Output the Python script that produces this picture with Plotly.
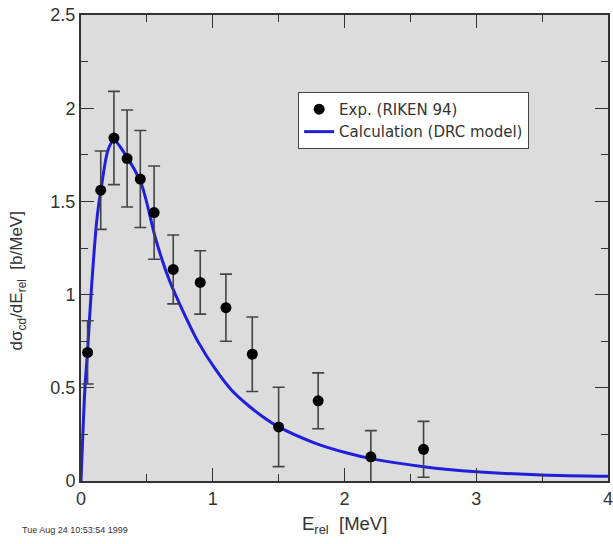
import plotly.graph_objects as go

# Measured Coulomb-dissociation cross section (RIKEN 94)
exp_e = [0.05, 0.15, 0.25, 0.35, 0.45, 0.555, 0.70, 0.905, 1.10, 1.30, 1.50, 1.80, 2.20, 2.60]
exp_sigma = [0.69, 1.56, 1.84, 1.73, 1.62, 1.44, 1.135, 1.065, 0.93, 0.68, 0.29, 0.43, 0.13, 0.17]
exp_err = [0.17, 0.21, 0.25, 0.26, 0.26, 0.25, 0.185, 0.17, 0.18, 0.20, 0.213, 0.15, 0.14, 0.15]

# DRC model calculation
calc_e = [0.0, 0.03, 0.05, 0.08, 0.12, 0.155, 0.205, 0.25, 0.33, 0.455, 0.57, 0.67,
          0.77, 0.89, 1.02, 1.14, 1.27, 1.38, 1.50, 1.77, 2.02, 2.20, 2.60, 3.00, 3.50, 4.00]
calc_sigma = [0.0, 0.50, 0.70, 1.04, 1.40, 1.58, 1.776, 1.83, 1.758, 1.60, 1.29, 1.078,
              0.917, 0.745, 0.60, 0.49, 0.405, 0.345, 0.29, 0.205, 0.15, 0.12, 0.077, 0.05, 0.032, 0.025]

x_ticks = [0, 1, 2, 3, 4]
y_ticks = [0, 0.5, 1, 1.5, 2, 2.5]

FONT = "Liberation Sans, Arial, sans-serif"
LEGEND_FONT = "DejaVu Sans, Liberation Sans, sans-serif"
INK = "#333333"

fig = go.Figure()

fig.add_trace(go.Scatter(
    x=calc_e, y=calc_sigma, mode="lines",
    line=dict(color="#1f1fdc", width=3, shape="spline", smoothing=0.8),
    name="Calculation (DRC model)",
))

fig.add_trace(go.Scatter(
    x=exp_e, y=exp_sigma, mode="markers",
    marker=dict(color="black", size=11),
    error_y=dict(type="data", array=exp_err, visible=True,
                 color="#444444", thickness=1.6, width=6),
    name="Exp. (RIKEN 94)",
))

axis_common = dict(
    showline=True, linecolor=INK, linewidth=2, mirror="ticks",
    ticks="inside", ticklen=13, tickwidth=1.3, tickcolor=INK,
    showgrid=False, zeroline=False,
    tickfont=dict(family=FONT, size=18, color=INK),
)

fig.update_xaxes(
    range=[0, 4], tickvals=x_ticks, ticklabeloverflow="allow",
    minor=dict(ticks="inside", ticklen=7, tickwidth=1.3, tickcolor=INK, dtick=0.5),
    **axis_common,
)
fig.update_yaxes(
    range=[0, 2.5], tickvals=y_ticks, ticktext=["0", "0.5", "1", "1.5", "2", "2.5"],
    minor=dict(ticks="inside", ticklen=7, tickwidth=1.3, tickcolor=INK, dtick=0.25),
    **axis_common,
)

fig.update_layout(
    width=613, height=544,
    margin=dict(l=81, r=0, t=15, b=63),
    paper_bgcolor="white", plot_bgcolor="#dcdcdc",
    font=dict(family=FONT, color=INK),
    legend=dict(
        x=0.412, y=0.835, xanchor="left", yanchor="top",
        bgcolor="white", bordercolor="#444444", borderwidth=1,
        font=dict(family=LEGEND_FONT, size=15, color=INK),
        traceorder="reversed", itemwidth=30, tracegroupgap=0,
    ),
    annotations=[
        dict(text="E<sub>rel</sub>  [MeV]", xref="paper", yref="paper",
             x=0.5, y=-0.095, xanchor="center", yanchor="middle", showarrow=False,
             font=dict(family=FONT, size=18.5, color=INK)),
        dict(text="dσ<sub>cd</sub>/dE<sub>rel</sub>  [b/MeV]", xref="paper", yref="paper",
             x=-0.12, y=0.43, xanchor="center", yanchor="middle", showarrow=False,
             textangle=-90, font=dict(family=FONT, size=17, color=INK)),
        dict(text="Tue Aug 24 10:53:54 1999", xref="paper", yref="paper",
             x=-0.115, y=-0.105, xanchor="left", yanchor="middle", showarrow=False,
             font=dict(family=FONT, size=9, color=INK)),
    ],
)

fig.write_html("out.html")
